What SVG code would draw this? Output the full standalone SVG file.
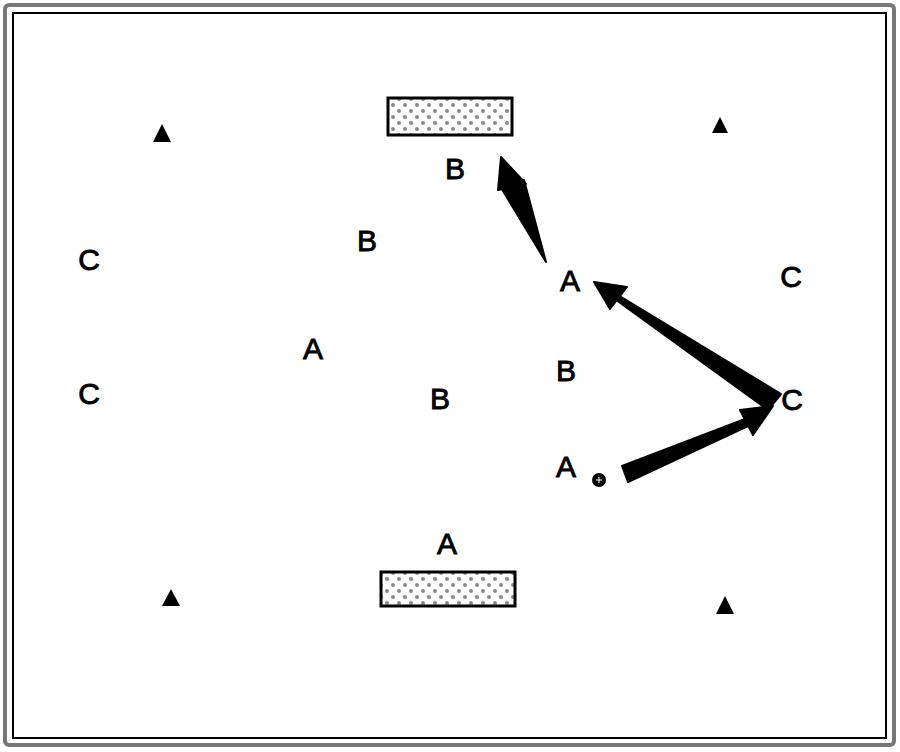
<svg xmlns="http://www.w3.org/2000/svg" width="900" height="752" viewBox="0 0 900 752">
<defs>
<style>
.lbl{font-family:"Liberation Sans",Arial,sans-serif;font-size:30px;fill:#000;stroke:#000;stroke-width:0.9;text-anchor:middle;dominant-baseline:central}
.tri{fill:#000}
.bar{fill:url(#dots);stroke:#000;stroke-width:3}
.ar{fill:#000;stroke:#000;stroke-width:2;stroke-linejoin:round}
</style>
<pattern id="dots" width="12" height="12" patternUnits="userSpaceOnUse">
<rect width="12" height="12" fill="#fff"/>
<circle cx="3" cy="3" r="2" fill="#8a8a8a"/>
<circle cx="9" cy="9" r="2" fill="#8a8a8a"/>
</pattern>
</defs>
<rect x="0" y="0" width="900" height="752" fill="#fff"/>
<rect x="5" y="5" width="889" height="740" rx="4" fill="none" stroke="#777" stroke-width="4"/>
<rect x="13" y="13" width="873" height="725" fill="none" stroke="#000" stroke-width="2"/>

<g id="bars">
<rect id="barTop" class="bar" x="388" y="98" width="124" height="37"/>
<rect id="barBottom" class="bar" x="381" y="572" width="134" height="34"/>
</g>

<g id="triangles">
<polygon id="t1" class="tri" points="162,124 153,142 171,142"/>
<polygon id="t2" class="tri" points="720,117 712,133 728,133"/>
<polygon id="t3" class="tri" points="171,589 162,606 180,606"/>
<polygon id="t4" class="tri" points="725,596 716,614 734,614"/>
</g>

<g id="labels">
<text class="lbl" x="455" y="168">B</text>
<text class="lbl" x="367" y="240">B</text>
<text class="lbl" x="89" y="259">C</text>
<text class="lbl" x="570" y="280">A</text>
<text class="lbl" x="791" y="276">C</text>
<text class="lbl" x="313" y="348">A</text>
<text class="lbl" x="566" y="370">B</text>
<text class="lbl" x="89" y="393">C</text>
<text class="lbl" x="440" y="398">B</text>
<text class="lbl" x="792" y="399">C</text>
<text class="lbl" x="566" y="466">A</text>
<text class="lbl" x="447" y="543">A</text>
</g>

<g id="marker">
<circle cx="599" cy="480" r="7" fill="#000"/>
<path d="M596 480h6M599 477v6" stroke="#fff" stroke-width="1"/>
</g>

<g id="connectors">
<polygon class="ar" points="501,157 498,190 526,184"/>
<polygon class="ar" points="500,186 524,180 546,262"/>
<polygon class="ar" points="594,282 627,287 610,309"/>
<polygon class="ar" points="612,297 618,295 781,394 768,410"/>
<polygon class="ar" points="740,410 773,406 753,435"/>
<polygon class="ar" points="622,466 628,482 748,426 745,419"/>
</g>
</svg>
